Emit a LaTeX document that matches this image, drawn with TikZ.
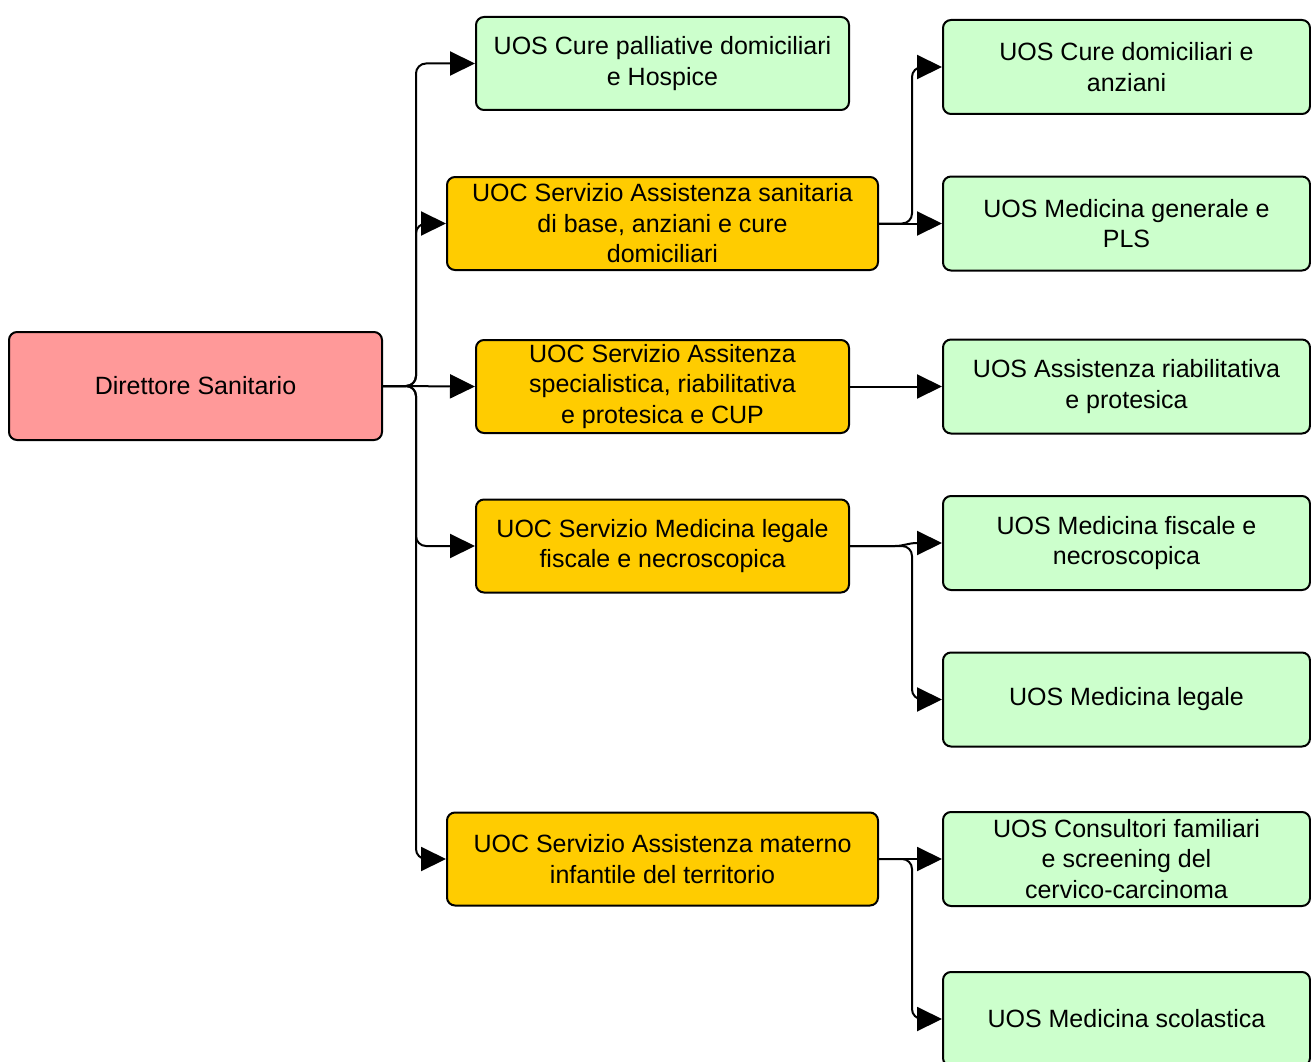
\documentclass[tikz,border=0pt]{standalone}
\usepackage{fontspec}
\setmainfont{Liberation Sans}
\usetikzlibrary{arrows.meta}
\definecolor{pinkred}{HTML}{FF9999}
\definecolor{orangey}{HTML}{FFCC00}
\definecolor{greeny}{HTML}{CCFFCC}
\begin{document}
\begin{tikzpicture}[x=1pt,y=-1pt,
  box/.style={draw=black, line width=2pt, rounded corners=8pt, align=center, inner sep=0pt,
    font=\fontsize{25}{30.5}\selectfont},
  dirbox/.style={box, fill=pinkred, minimum width=373pt, minimum height=108pt},
  uos/.style={box, fill=greeny, minimum width=373pt, minimum height=93pt},
  uoc/.style={box, fill=orangey, minimum width=373pt, minimum height=93pt},
  uocw/.style={box, fill=orangey, minimum width=431pt, minimum height=93pt},
  rbox/.style={box, fill=greeny, minimum width=367pt, minimum height=94pt},
  conn/.style={line width=2pt, rounded corners=10pt, -{Triangle[length=25pt,width=24pt]}}]
\useasboundingbox (0,0) rectangle (1311,1062);

\node[dirbox] (dir) at (195.5,386) {Direttore Sanitario};

\node[uos] (pal) at (662.5,63.5) {UOS Cure palliative domiciliari\\e Hospice};
\node[uocw] (san) at (662.5,223.5) {UOC Servizio Assistenza sanitaria\\di base, anziani e cure\\domiciliari};
\node[uoc] (spe) at (662.5,386.5) {UOC Servizio Assitenza\\specialistica, riabilitativa\\e protesica e CUP};
\node[uoc] (leg) at (662.5,546) {UOC Servizio Medicina legale\\fiscale e necroscopica};
\node[uocw] (mat) at (662.5,859) {UOC Servizio Assistenza materno\\infantile del territorio};

\node[rbox] (r1) at (1126.5,67) {UOS Cure domiciliari e\\anziani};
\node[rbox] (r2) at (1126.5,223.5) {UOS Medicina generale e\\PLS};
\node[rbox] (r3) at (1126.5,386.5) {UOS Assistenza riabilitativa\\e protesica};
\node[rbox] (r4) at (1126.5,543) {UOS Medicina fiscale e\\necroscopica};
\node[rbox] (r5) at (1126.5,699.5) {UOS Medicina legale};
\node[rbox] (r6) at (1126.5,859) {UOS Consultori familiari\\e screening del\\cervico-carcinoma};
\node[rbox] (r7) at (1126.5,1019) {UOS Medicina scolastica};

\draw[conn] (dir.east) -- ++(33,0) |- (pal.west);
\draw[conn] (dir.east) -- ++(33,0) |- (san.west);
\draw[conn] (dir.east) -- (spe.west);
\draw[conn] (dir.east) -- ++(33,0) |- (leg.west);
\draw[conn] (dir.east) -- ++(33,0) |- (mat.west);

\draw[conn] (san.east) -- ++(33,0) |- (r1.west);
\draw[conn] (san.east) -- (r2.west);
\draw[conn] (spe.east) -- (r3.west);
\draw[conn, sharp corners] (leg.east) -- ++(45,0) to[out=0,in=180] ++(22,-3) -- (r4.west);
\draw[conn] (leg.east) -- ++(62,0) |- (r5.west);
\draw[conn] (mat.east) -- (r6.west);
\draw[conn] (mat.east) -- ++(33,0) |- (r7.west);
\end{tikzpicture}
\end{document}
